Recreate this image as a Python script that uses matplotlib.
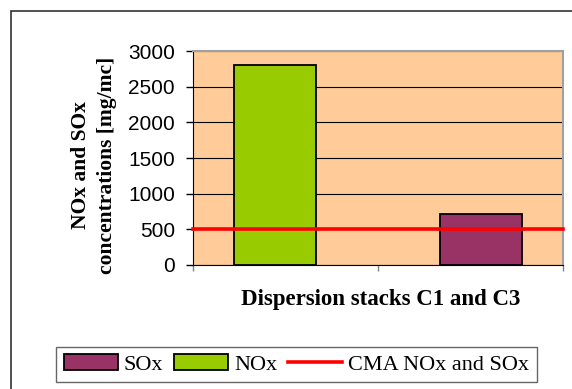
import matplotlib.pyplot as plt
from matplotlib.patches import Patch, Rectangle
from matplotlib.lines import Line2D

# values
series = ['NOx', 'SOx']
values = [2800, 720]
limit = 500  # CMA NOx and SOx
bar_colors = ['#99CC00', '#993366']
bar_pos = [0.443, 1.557]

W, H = 572, 389
fig = plt.figure(figsize=(W / 100, H / 100), dpi=100)
fig.patch.set_facecolor('white')

# outer chart frame (runs off the right/bottom of the image)
fig.add_artist(Rectangle((11 / W, -0.1), 1.2, 1 - 11 / H + 0.1, transform=fig.transFigure,
                         fill=False, edgecolor='#333333', linewidth=1.2, clip_on=False))

ax = fig.add_axes([193 / W, (H - 265) / H, 370 / W, 214 / H])
ax.set_facecolor('#FFCC99')

ax.bar(bar_pos, values, width=0.443, color=bar_colors, edgecolor='black', linewidth=1.3, zorder=3)
ax.axhline(limit, color='#FF0000', linewidth=2.6, zorder=4, clip_on=False)

ax.set_xlim(0, 2)
ax.set_ylim(0, 3000)
ax.set_yticks(range(0, 3001, 500))
ax.set_xticks([0, 1, 2])
ax.set_xticklabels([])
ax.yaxis.grid(True, color='black', linewidth=0.8, zorder=1)
ax.set_axisbelow(True)
ax.tick_params(axis='y', length=5, width=1, labelsize=15, pad=8)
ax.tick_params(axis='x', length=4, width=1, color='#808080')
for lab in ax.get_yticklabels():
    lab.set_fontfamily('Liberation Sans')

ax.spines['top'].set_color('#A0A0A0')
ax.spines['right'].set_color('#A0A0A0')
ax.spines['top'].set_linewidth(1.5)
ax.spines['right'].set_linewidth(1.5)
ax.spines['left'].set_color('black')
ax.spines['bottom'].set_color('black')

fig.text(94 / W, 1 - 165 / H, 'NOx and SOx\nconcentrations [mg/mc]', rotation=90,
         ha='center', va='center', multialignment='center', fontsize=15.5,
         fontweight='bold', family='Liberation Serif', linespacing=1.4)

fig.text(381 / W, 1 - 300 / H, 'Dispersion stacks C1 and C3', ha='center', va='center',
         fontsize=16.5, fontweight='bold', family='Liberation Serif')

handles = [Patch(facecolor=bar_colors[1], edgecolor='black', linewidth=1.3),
           Patch(facecolor=bar_colors[0], edgecolor='black', linewidth=1.3),
           Line2D([], [], color='#FF0000', linewidth=2.6)]
leg = fig.legend(handles, ['SOx', 'NOx', 'CMA NOx and SOx'], ncol=3, loc='center',
                 bbox_to_anchor=((55 + 538) / 2 / W, 1 - (343 + 386) / 2 / H),
                 prop={'family': 'Liberation Serif', 'size': 16}, frameon=True, fancybox=False,
                 shadow=False, handlelength=2.43, handleheight=0.68, handletextpad=0.27,
                 columnspacing=0.5, borderpad=0.35, borderaxespad=0)
leg.get_frame().set_edgecolor('#404040')
leg.get_frame().set_linewidth(1.0)

fig.savefig('out.png', dpi=100)
